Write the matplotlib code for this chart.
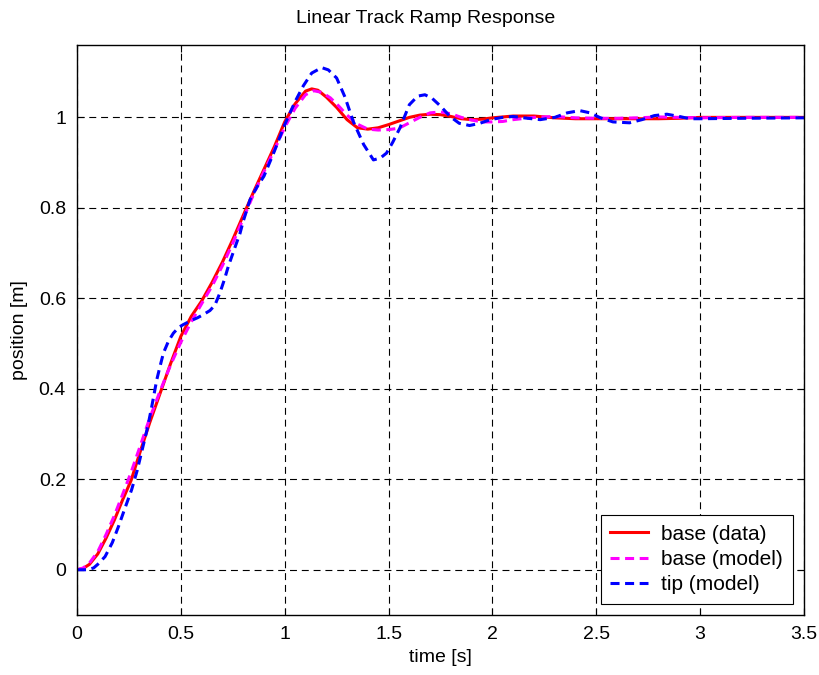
import matplotlib
matplotlib.use("Agg")
import matplotlib.pyplot as plt

plt.rcParams['font.family'] = ['Liberation Sans', 'DejaVu Sans']
plt.rcParams['lines.scale_dashes'] = False

# base (data)
t_data = [0, 0.03, 0.06, 0.10, 0.14, 0.18, 0.22, 0.26, 0.30, 0.35, 0.40, 0.45, 0.50,
          0.55, 0.60, 0.65, 0.70, 0.75, 0.80, 0.85, 0.90, 0.95, 1.00, 1.05, 1.10,
          1.13, 1.16, 1.20, 1.25, 1.30, 1.35, 1.40, 1.45, 1.50, 1.55, 1.60, 1.65,
          1.70, 1.75, 1.80, 1.85, 1.90, 1.95, 2.00, 2.10, 2.20, 2.30, 2.40, 2.50,
          2.60, 2.70, 2.80, 2.90, 3.00, 3.10, 3.20, 3.30, 3.40, 3.50]
y_data = [0, 0.003, 0.012, 0.035, 0.07, 0.11, 0.155, 0.197, 0.255, 0.325, 0.39, 0.455, 0.516,
          0.56, 0.594, 0.635, 0.68, 0.73, 0.783, 0.835, 0.885, 0.935, 0.99, 1.03, 1.058,
          1.063, 1.06, 1.045, 1.022, 0.995, 0.977, 0.974, 0.977, 0.984, 0.992, 1.0, 1.005,
          1.007, 1.006, 1.002, 0.997, 0.995, 0.996, 0.999, 1.003, 1.003, 0.999, 0.997, 0.997,
          0.997, 0.997, 0.997, 0.998, 1.0, 1.0, 1.0, 1.0, 1.0, 1.0]

# base (model)
t_base = [0, 0.03, 0.06, 0.10, 0.14, 0.18, 0.22, 0.26, 0.30, 0.35, 0.40, 0.45, 0.50,
          0.55, 0.60, 0.65, 0.70, 0.75, 0.80, 0.85, 0.90, 0.95, 1.00, 1.05, 1.10,
          1.14, 1.18, 1.22, 1.26, 1.30, 1.35, 1.40, 1.45, 1.50, 1.55, 1.60, 1.65,
          1.70, 1.75, 1.80, 1.85, 1.90, 1.95, 2.00, 2.05, 2.10, 2.20, 2.30, 2.40,
          2.50, 2.60, 2.70, 2.80, 2.90, 3.00, 3.20, 3.50]
y_base = [0, 0.004, 0.015, 0.04, 0.078, 0.12, 0.167, 0.215, 0.268, 0.335, 0.395, 0.452, 0.503,
          0.548, 0.588, 0.627, 0.672, 0.722, 0.776, 0.83, 0.88, 0.928, 0.978, 1.02, 1.05,
          1.059, 1.055, 1.043, 1.025, 1.005, 0.985, 0.974, 0.972, 0.973, 0.976, 0.988, 1.0,
          1.01, 1.012, 1.008, 1.0, 0.994, 0.99, 0.99, 0.991, 0.995, 1.0, 1.002, 0.999,
          0.998, 0.998, 0.999, 1.001, 1.0, 0.999, 1.0, 1.0]

# tip (model)
t_tip = [0, 0.05, 0.08, 0.10, 0.135, 0.17, 0.20, 0.23, 0.263, 0.29, 0.31, 0.34, 0.36,
         0.384, 0.40, 0.416, 0.44, 0.464, 0.49, 0.512, 0.55, 0.58, 0.608, 0.64, 0.664,
         0.688, 0.71, 0.728, 0.76, 0.785, 0.80, 0.833, 0.865, 0.90, 0.95, 1.00, 1.05,
         1.09, 1.13, 1.178, 1.21, 1.25, 1.29, 1.33, 1.38, 1.427, 1.46, 1.49, 1.52,
         1.555, 1.60, 1.64, 1.675, 1.71, 1.75, 1.796, 1.84, 1.89, 1.94, 1.99, 2.05,
         2.10, 2.17, 2.23, 2.30, 2.36, 2.42, 2.47, 2.52, 2.58, 2.66, 2.72, 2.78,
         2.84, 2.90, 2.95, 3.00, 3.20, 3.50]
y_tip = [0, 0.0, 0.004, 0.012, 0.029, 0.06, 0.096, 0.135, 0.177, 0.22, 0.258, 0.315, 0.361,
         0.42, 0.45, 0.479, 0.505, 0.523, 0.536, 0.542, 0.551, 0.557, 0.564, 0.573, 0.585,
         0.612, 0.642, 0.67, 0.712, 0.744, 0.77, 0.818, 0.845, 0.87, 0.925, 0.984, 1.035,
         1.07, 1.098, 1.11, 1.105, 1.087, 1.045, 0.991, 0.94, 0.906, 0.91, 0.921, 0.945,
         0.977, 1.028, 1.047, 1.05, 1.042, 1.025, 1.002, 0.987, 0.982, 0.987, 0.995, 1.0,
         1.002, 0.998, 0.995, 1.0, 1.01, 1.015, 1.01, 0.999, 0.99, 0.988, 0.995, 1.004,
         1.007, 1.002, 0.997, 0.997, 0.998, 0.999]

x_ticks = [0, 0.5, 1, 1.5, 2, 2.5, 3, 3.5]
x_ticklabels = ['0', '0.5', '1', '1.5', '2', '2.5', '3', '3.5']
y_ticks = [0, 0.2, 0.4, 0.6, 0.8, 1]
y_ticklabels = ['0', '0.2', '0.4', '0.6', '0.8', '1']

fig = plt.figure(figsize=(8.2, 6.75), dpi=100)
ax = fig.add_axes([77 / 820, 1 - 615 / 675, (804 - 77) / 820, (615 - 45) / 675])

ax.plot(t_data, y_data, color='#ff0000', lw=2.2, label='base (data)')
ax.plot(t_base, y_base, color='#ff00ff', lw=2.2, dashes=(6.5, 4), label='base (model)')
ax.plot(t_tip, y_tip, color='#0000ff', lw=2.2, dashes=(6.5, 4), label='tip (model)')

ax.set_xlim(0, 3.5)
ax.set_ylim(-0.1, 1.16)
ax.set_xticks(x_ticks)
ax.set_xticklabels(x_ticklabels)
ax.set_yticks(y_ticks)
ax.set_yticklabels(y_ticklabels)
ax.tick_params(direction='in', length=5, width=0.8, top=True, right=True,
               labelsize=14, pad=8, colors='black')
ax.grid(True, color='black', linewidth=0.8, linestyle=(0, (5, 3.5)))
for s in ax.spines.values():
    s.set_linewidth(1.0)
    s.set_color('black')

ax.set_title('Linear Track Ramp Response', fontsize=14, pad=16, x=(426 - 77) / 727)
ax.set_xlabel('time [s]', fontsize=14, labelpad=4)
ax.set_ylabel('position [m]', fontsize=14, labelpad=8)

leg = ax.legend(loc='lower right', fontsize=15, frameon=True, fancybox=False,
                edgecolor='black', framealpha=1, handlelength=1.8,
                borderaxespad=0.55, labelspacing=0.3, borderpad=0.45, handletextpad=0.65)
leg.get_frame().set_linewidth(0.8)

fig.savefig('out.png', dpi=100)
